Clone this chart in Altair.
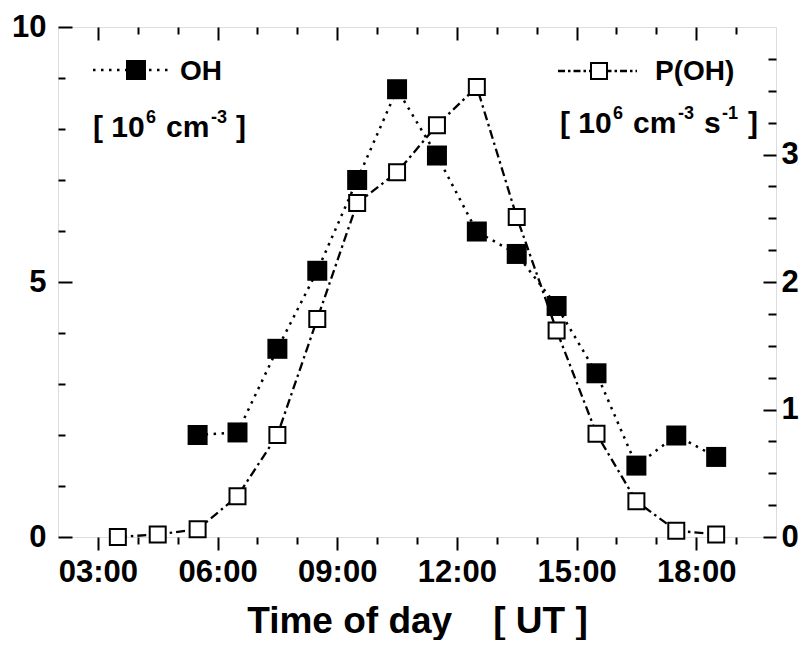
import altair as alt
import pandas as pd

# ---------------- data ----------------
oh_hours = [5.5, 6.5, 7.5, 8.5, 9.5, 10.5, 11.5, 12.5, 13.5, 14.5, 15.5, 16.5, 17.5, 18.5]
oh_values = [2.0, 2.05, 3.69, 5.22, 7.0, 8.78, 7.48, 5.99, 5.55, 4.53, 3.21, 1.40, 1.99, 1.57]

poh_hours = [3.5, 4.5, 5.5, 6.5, 7.5, 8.5, 9.5, 10.5, 11.5, 12.5, 13.5, 14.5, 15.5, 16.5, 17.5, 18.5]
poh_values = [0.0, 0.02, 0.06, 0.32, 0.80, 1.71, 2.62, 2.86, 3.23, 3.53, 2.51, 1.62, 0.81, 0.28, 0.05, 0.02]

x_ticks = list(range(3, 20))
oh_label_ticks = [0, 5, 10]
oh_ticks = list(range(0, 11))
poh_label_ticks = [0, 1, 2, 3]
poh_ticks = [i * 0.25 for i in range(0, 16)]

W, H = 718, 510
FONT = "Liberation Sans"
OX, OY = 58, 27  # page position of plot origin (for annotation placement)

oh_df = pd.DataFrame({"hour": oh_hours, "oh": oh_values})
poh_df = pd.DataFrame({"hour": poh_hours, "poh": poh_values})
deco = pd.DataFrame({"k": [0]})

xscale = alt.Scale(domain=[2, 20], nice=False, zero=False)
oh_scale = alt.Scale(domain=[0, 10], nice=False)
poh_scale = alt.Scale(domain=[0, 4], nice=False)

label_expr = "datum.value % 3 === 0 ? ((datum.value < 10 ? '0' : '') + datum.value + ':00') : ''"
x_major = {"condition": {"test": "datum.value % 3 === 0", "value": 13}, "value": 7}
oh_major = {"condition": {"test": "datum.value % 5 === 0", "value": 14}, "value": 7}
poh_major = {"condition": {"test": "datum.value % 1 === 0", "value": 13}, "value": 8}

lab = dict(labelFont=FONT, labelFontSize=31, labelFontWeight="bold", labelColor="black")

x_bottom = alt.Axis(orient="bottom", values=x_ticks, labelExpr=label_expr, tickSize=x_major,
                    tickWidth=2, tickColor="black", domain=False, grid=False, labelPadding=7,
                    labelOverlap=False, title="Time of day\u00a0\u00a0\u00a0\u00a0[ UT ]", titleFont=FONT,
                    titleFontSize=37, titleFontWeight="bold", titleColor="black", titlePadding=16, **lab)
x_top = alt.Axis(orient="bottom", offset=-H, values=x_ticks, labels=False, tickSize=x_major,
                 tickWidth=2, tickColor="black", domain=False, grid=False, title=None)

y_oh_labels = alt.Axis(orient="left", values=oh_label_ticks, ticks=False, tickSize=0, domain=False,
                       grid=False, labelPadding=12, format="d", title=None, **lab)
y_oh_ticks = alt.Axis(orient="right", offset=-W, values=oh_ticks, labels=False, tickSize=oh_major,
                      tickWidth=2, tickColor="black", domain=False, grid=False, title=None)
y_poh_labels = alt.Axis(orient="right", values=poh_label_ticks, ticks=False, tickSize=0, domain=False,
                        grid=False, labelPadding=5, format="d", title=None, **lab)
y_poh_ticks = alt.Axis(orient="left", offset=-W, values=poh_ticks, labels=False, tickSize=poh_major,
                       tickWidth=2, tickColor="black", domain=False, grid=False, title=None)

OH_DASH = [2.5, 5.5]
POH_DASH = [9, 4, 2.5, 4]

poh_line = alt.Chart(poh_df).mark_line(color="black", strokeWidth=2.3, strokeDash=POH_DASH).encode(
    x=alt.X("hour:Q", scale=xscale, axis=x_bottom),
    y=alt.Y("poh:Q", scale=poh_scale, axis=y_poh_labels),
)
oh_line = alt.Chart(oh_df).mark_line(color="black", strokeWidth=2.5, strokeDash=OH_DASH).encode(
    x=alt.X("hour:Q", scale=xscale, axis=x_top),
    y=alt.Y("oh:Q", scale=oh_scale, axis=y_oh_labels),
)
poh_pts = alt.Chart(poh_df).mark_square(size=256, filled=True, fill="white", stroke="black",
                                        strokeWidth=2, opacity=1).encode(
    x=alt.X("hour:Q", scale=xscale, axis=None),
    y=alt.Y("poh:Q", scale=poh_scale, axis=y_poh_ticks),
)
oh_pts = alt.Chart(oh_df).mark_square(size=400, filled=True, color="black", opacity=1).encode(
    x=alt.X("hour:Q", scale=xscale, axis=None),
    y=alt.Y("oh:Q", scale=oh_scale, axis=y_oh_ticks),
)


def txt(px, py, s, size):
    return alt.Chart(deco).mark_text(text=s, align="left", baseline="alphabetic", font=FONT,
                                     fontSize=size, fontWeight="bold", color="black").encode(
        x=alt.value(px - OX), y=alt.value(py - OY))


# legend: OH
leg = [
    alt.Chart(deco).mark_rule(color="black", strokeWidth=2.5, strokeDash=OH_DASH).encode(
        x=alt.value(93 - OX), x2=alt.value(172 - OX), y=alt.value(70 - OY)),
    alt.Chart(deco).mark_square(size=400, color="black", opacity=1).encode(
        x=alt.value(136 - OX), y=alt.value(70 - OY)),
    txt(180, 80, "OH", 28),
    txt(93, 137, "[ 10", 30), txt(146, 123, "6", 18), txt(166, 137, "cm", 30),
    txt(211, 123, "-3", 18), txt(236, 137, "]", 30),
    # legend: P(OH)
    alt.Chart(deco).mark_rule(color="black", strokeWidth=2.3, strokeDash=[7, 3, 2.5, 3]).encode(
        x=alt.value(558 - OX), x2=alt.value(637 - OX), y=alt.value(71 - OY)),
    alt.Chart(deco).mark_square(size=256, filled=True, fill="white", stroke="black", strokeWidth=2,
                                opacity=1).encode(x=alt.value(599 - OX), y=alt.value(71 - OY)),
    txt(655, 80, "P(OH)", 28),
    txt(560, 133, "[ 10", 30), txt(613, 119, "6", 18), txt(633, 133, "cm", 30),
    txt(678, 119, "-3", 18), txt(704, 133, "s", 30), txt(722, 119, "-1", 18), txt(748, 133, "]", 30),
]

chart = alt.layer(poh_line, oh_line, poh_pts, oh_pts, *leg).resolve_scale(
    y="independent"
).resolve_axis(x="independent", y="independent").properties(
    width=W, height=H,
    autosize=alt.AutoSizeParams(type="none"),
    padding={"left": 50, "top": 19, "right": 26, "bottom": 103},
).configure_view(stroke="black", strokeWidth=2).configure(background="white", font=FONT)

chart.save("out.html", embed_options={"renderer": "svg", "actions": False})
